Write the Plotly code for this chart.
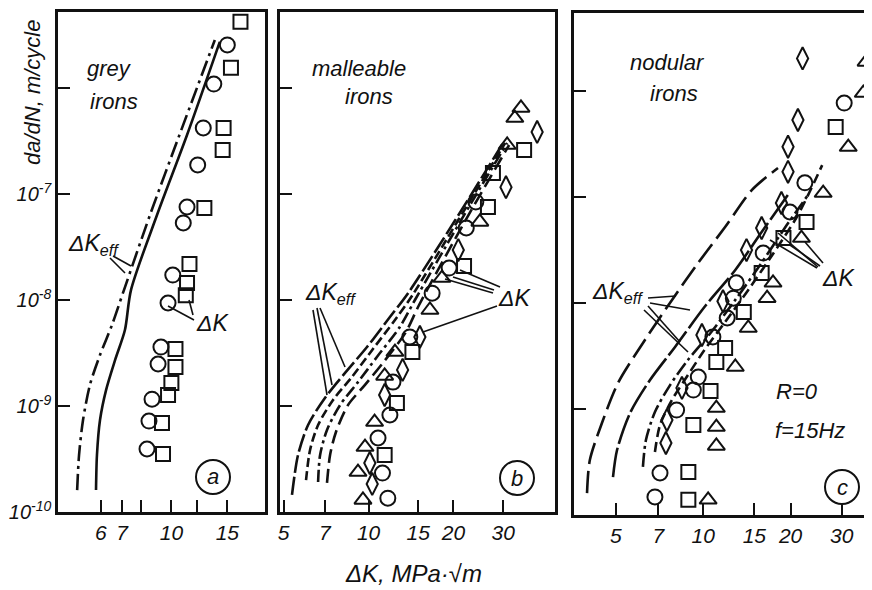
import plotly.graph_objects as go

# ---------------- data: panel a (grey irons) ----------------
a_eff1_x = [5.05, 5.12, 5.27, 5.54, 5.96, 6.50, 7.09, 8.56, 10.6, 13.7]
a_eff1_y = [1.61e-10, 3.45e-10, 7.38e-10, 1.58e-9, 3.03e-9, 5.81e-9, 1.24e-8, 6.33e-8, 3.60e-7, 2.84e-6]
a_eff2_x = [5.79, 5.83, 5.96, 6.23, 6.65, 7.14, 7.46, 9.01, 11.2, 14.2]
a_eff2_y = [1.61e-10, 3.45e-10, 7.38e-10, 1.42e-9, 2.72e-9, 5.21e-9, 1.24e-8, 6.33e-8, 3.60e-7, 2.72e-6]
a_sq_x = [16.5, 15.4, 14.6, 14.5, 12.7, 11.4, 11.2, 11.1, 10.3, 10.3, 10.0, 9.76, 9.34, 9.41]
a_sq_y = [4.22e-6, 1.55e-6, 4.20e-7, 2.60e-7, 7.38e-8, 2.19e-8, 1.45e-8, 1.11e-8, 3.45e-9, 2.33e-9,
          1.65e-9, 1.27e-9, 6.91e-10, 3.52e-10]
a_ci_x = [15.0, 13.6, 12.6, 12.1, 11.2, 10.9, 10.1, 9.76, 9.27, 9.08, 8.69, 8.50, 8.38]
a_ci_y = [2.55e-6, 1.09e-6, 4.20e-7, 1.88e-7, 7.54e-8, 5.33e-8, 1.72e-8, 9.37e-9, 3.60e-9, 2.49e-9,
          1.16e-9, 7.21e-10, 3.93e-10]

# ---------------- data: panel b (malleable irons) ----------------
b_eff1_x = [5.35, 5.62, 6.10, 7.00, 8.25, 9.87, 11.9, 13.8, 20.3, 30.0]
b_eff1_y = [1.45e-10, 3.45e-10, 6.62e-10, 1.19e-9, 2.05e-9, 3.60e-9, 6.91e-9, 1.16e-8, 5.68e-8, 3.03e-7]
b_eff2_x = [6.00, 6.20, 6.62, 7.48, 8.73, 10.3, 12.4, 14.3, 20.8, 30.5]
b_eff2_y = [2.00e-10, 3.85e-10, 6.62e-10, 1.14e-9, 1.88e-9, 3.38e-9, 6.47e-9, 1.11e-8, 5.68e-8, 3.03e-7]
b_eff3_x = [6.62, 6.73, 7.12, 7.92, 9.17, 10.7, 12.9, 14.6, 21.1, 31.0]
b_eff3_y = [1.92e-10, 3.45e-10, 5.94e-10, 1.02e-9, 1.68e-9, 2.90e-9, 5.56e-9, 1.00e-8, 5.45e-8, 3.03e-7]
b_eff4_x = [7.12, 7.30, 7.66, 8.45, 9.71, 11.3, 13.5, 15.1, 21.6, 31.5]
b_eff4_y = [1.88e-10, 3.45e-10, 5.69e-10, 1.02e-9, 1.58e-9, 2.60e-9, 4.89e-9, 8.97e-9, 5.11e-8, 2.90e-7]
b_ci_x = [24.0, 22.2, 19.3, 16.8, 14.0, 12.2, 11.9, 10.8, 11.2, 11.7]
b_ci_y = [8.41e-8, 4.78e-8, 2.00e-8, 1.16e-8, 4.48e-9, 1.68e-9, 8.22e-10, 4.99e-10, 2.33e-10, 1.35e-10]
b_tr_x = [34.7, 33.0, 31.0, 24.8, 18.2, 16.5, 12.4, 11.4, 10.5, 9.71, 9.17, 9.55]
b_tr_y = [6.48e-7, 5.21e-7, 2.90e-7, 5.45e-8, 1.61e-8, 8.05e-9, 3.23e-9, 1.92e-9, 7.06e-10, 4.10e-10,
          2.38e-10, 1.30e-10]
b_di_x = [39.6, 30.7, 20.8, 15.2, 13.2, 11.4, 10.1, 10.3]
b_di_y = [3.85e-7, 1.16e-7, 2.96e-8, 4.48e-9, 2.19e-9, 1.27e-9, 2.90e-10, 1.84e-10]
b_sq_x = [35.6, 27.6, 26.5, 21.8, 14.3, 12.6, 11.4]
b_sq_y = [2.60e-7, 1.58e-7, 7.54e-8, 2.09e-8, 3.23e-9, 1.07e-9, 3.45e-10]

# ---------------- data: panel c (nodular irons) ----------------
c_eff1_x = [3.98, 4.07, 4.48, 5.09, 6.30, 7.81, 9.60, 11.9, 14.7, 18.1]
c_eff1_y = [1.61e-10, 3.30e-10, 7.38e-10, 1.76e-9, 4.48e-9, 1.07e-8, 2.38e-8, 5.21e-8, 1.16e-7, 1.88e-7]
c_eff2_x = [4.89, 5.05, 5.60, 6.56, 8.00, 10.1, 12.9, 15.9, 19.6]
c_eff2_y = [2.28e-10, 4.10e-10, 9.17e-10, 1.88e-9, 3.85e-9, 9.17e-9, 2.05e-8, 4.67e-8, 1.05e-7]
c_eff3_x = [6.20, 6.35, 6.82, 7.69, 8.86, 10.6, 12.9, 15.7, 19.1, 23.0]
c_eff3_y = [2.84e-10, 5.10e-10, 9.37e-10, 1.68e-9, 2.90e-9, 5.21e-9, 1.07e-8, 2.28e-8, 5.10e-8, 1.05e-7]
c_eff4_x = [6.82, 7.10, 7.81, 8.86, 10.1, 11.9, 14.3, 17.3, 21.2, 25.7]
c_eff4_y = [3.93e-10, 7.06e-10, 1.22e-9, 2.09e-9, 3.60e-9, 6.62e-9, 1.33e-8, 2.84e-8, 6.76e-8, 2.00e-7]
c_di_x = [22.0, 21.2, 19.6, 19.6, 18.6, 15.9, 14.1, 11.7, 9.90, 8.45, 7.50, 7.44]
c_di_y = [2.03e-6, 5.33e-7, 2.98e-7, 1.73e-7, 8.78e-8, 5.10e-8, 3.16e-8, 1.04e-8, 4.99e-9, 1.58e-9,
          7.87e-10, 4.78e-10]
c_ci_x = [30.6, 22.4, 19.9, 16.1, 13.0, 12.7, 12.1, 10.8, 9.62, 9.25, 8.10, 7.10, 6.82]
c_ci_y = [7.70e-7, 1.36e-7, 7.22e-8, 2.96e-8, 1.55e-8, 1.11e-8, 7.22e-9, 4.78e-9, 2.00e-9, 1.51e-9,
          9.78e-10, 2.49e-10, 1.48e-10]
c_sq_x = [28.6, 22.7, 18.9, 15.9, 13.8, 11.9, 11.1, 10.6, 9.25, 8.89, 8.89]
c_sq_y = [4.57e-7, 5.81e-8, 4.10e-8, 1.92e-8, 8.22e-9, 3.76e-9, 2.78e-9, 1.48e-9, 7.06e-10, 2.55e-10,
          1.39e-10]
c_tr_x = [36.4, 35.6, 31.6, 25.9, 21.8, 17.4, 16.6, 14.3, 12.9, 11.1, 11.1, 11.1, 10.4]
c_tr_y = [1.88e-6, 9.57e-7, 2.96e-7, 1.09e-7, 4.10e-8, 1.55e-8, 1.11e-8, 5.81e-9, 2.49e-9, 1.02e-9,
          6.76e-10, 4.48e-10, 1.39e-10]

# ---------------- tick labels ----------------
a_xticks = [6, 7, 8, 10, 12, 15]
a_xtext = ["6", "7", "", "10", "", "15"]
bc_xticks = [5, 7, 10, 15, 20, 30]
bc_xtext = ["5", "7", "10", "15", "20", "30"]
yticks = [1e-10, 1e-9, 1e-8, 1e-7, 1e-6]
ytext = ["10<sup>-10</sup>", "10<sup>-9</sup>", "10<sup>-8</sup>", "10<sup>-7</sup>", ""]

# The page body has an 8px margin, so the figure is laid out in page pixels minus 8.
OFF = 8
W, H = 872 - OFF, 590 - OFF
FONT = "Liberation Sans"
BLACK = "#111111"


def P(x, y):
    return (x - OFF) / W, 1 - (y - OFF) / H


def xdom(x0, x1):
    return [max(0.0, (x0 - OFF) / W), min(1.0, (x1 - OFF) / W)]


def ydom(top, bottom):
    return [1 - (bottom - OFF) / H, 1 - (top - OFF) / H]


fig = go.Figure()


def curve(x, y, ax, dash):
    fig.add_trace(go.Scatter(x=x, y=y, mode="lines", xaxis=ax[0], yaxis=ax[1],
                             line=dict(color=BLACK, width=2.6, dash=dash, shape="spline", smoothing=0.8),
                             showlegend=False, hoverinfo="skip"))


def pts(x, y, ax, symbol, size):
    fig.add_trace(go.Scatter(x=x, y=y, mode="markers", xaxis=ax[0], yaxis=ax[1],
                             marker=dict(symbol=symbol, size=size, color=BLACK,
                                         line=dict(color=BLACK, width=2)),
                             showlegend=False, hoverinfo="skip"))


A = ("x", "y")
B = ("x2", "y2")
C = ("x3", "y3")

curve(a_eff1_x, a_eff1_y, A, "16px,5px,3px,5px")
curve(a_eff2_x, a_eff2_y, A, "solid")
pts(a_ci_x, a_ci_y, A, "circle-open", 15)
pts(a_sq_x, a_sq_y, A, "square-open", 14)

curve(b_eff1_x, b_eff1_y, B, "18px,4px")
curve(b_eff2_x, b_eff2_y, B, "9px,4px")
curve(b_eff3_x, b_eff3_y, B, "12px,4px,3px,4px")
curve(b_eff4_x, b_eff4_y, B, "14px,6px")
pts(b_ci_x, b_ci_y, B, "circle-open", 15)
pts(b_tr_x, b_tr_y, B, "triangle-up-open", 15)
pts(b_di_x, b_di_y, B, "diamond-tall-open", 16)
pts(b_sq_x, b_sq_y, B, "square-open", 14)

curve(c_eff1_x, c_eff1_y, C, "22px,7px")
curve(c_eff2_x, c_eff2_y, C, "30px,4px")
curve(c_eff3_x, c_eff3_y, C, "14px,4px,3px,4px")
curve(c_eff4_x, c_eff4_y, C, "10px,5px")
pts(c_di_x, c_di_y, C, "diamond-tall-open", 16)
pts(c_ci_x, c_ci_y, C, "circle-open", 15)
pts(c_sq_x, c_sq_y, C, "square-open", 14)
pts(c_tr_x, c_tr_y, C, "triangle-up-open", 15)

tickfont = dict(family=FONT, size=21, color=BLACK, style="italic")


def xax(domain, rng, tv, tt, anchor, mirror=True):
    return dict(type="log", domain=domain, range=rng, anchor=anchor, tickmode="array",
                tickvals=tv, ticktext=tt, automargin=False,
                ticks="inside", ticklen=12, tickwidth=2, tickcolor=BLACK, showline=True,
                linecolor=BLACK, linewidth=2.5, mirror=mirror, showgrid=False, zeroline=False,
                tickfont=tickfont)


def yax(domain, rng, anchor, labels, mirror=True):
    return dict(type="log", domain=domain, range=rng, anchor=anchor, tickmode="array",
                tickvals=yticks, ticktext=ytext if labels else [""] * len(yticks),
                automargin=False,
                ticks="inside", ticklen=12, tickwidth=2, tickcolor=BLACK, showline=True,
                linecolor=BLACK, linewidth=2.5, mirror=mirror, showgrid=False, zeroline=False,
                tickfont=dict(family=FONT, size=20, color=BLACK, style="italic"))


fig.update_layout(
    width=W, height=H, margin=dict(l=0, r=0, t=0, b=0, autoexpand=False),
    paper_bgcolor="white", plot_bgcolor="white",
    font=dict(family=FONT, color=BLACK, style="italic"),
    xaxis=xax(xdom(58, 265), [0.6430, 1.2947], a_xticks, a_xtext, "y"),
    yaxis=yax(ydom(12, 512), [-10, -5.283], "x", True),
    xaxis2=xax(xdom(280, 555), [0.6858, 1.6610], bc_xticks, bc_xtext, "y2"),
    yaxis2=yax(ydom(12, 512), [-10, -5.283], "x2", False),
    xaxis3=xax(xdom(574, 872), [0.5550, 1.5815], bc_xticks, bc_xtext, "y3"),
    yaxis3=yax(ydom(13, 515), [-10, -5.264], "x3", False, mirror=False),
)

ann = []


def text(t, x, y, size=20, xanchor="center", angle=0):
    px, py = P(x, y)
    ann.append(dict(text=t, x=px, y=py, xref="paper", yref="paper", showarrow=False,
                    xanchor=xanchor, yanchor="middle", textangle=angle,
                    font=dict(family=FONT, size=size, color=BLACK, style="italic")))


text("grey", 85, 69, 22, "left")
text("irons", 88, 102, 22, "left")
text("malleable", 310, 69, 22, "left")
text("irons", 343, 96, 22, "left")
text("nodular", 628, 62, 22, "left")
text("irons", 648, 93, 22, "left")
text("ΔK<sub>eff</sub>", 93, 244, 23)
text("ΔK", 212, 323, 23)
text("ΔK<sub>eff</sub>", 330, 293, 23)
text("ΔK", 514, 298, 23)
text("ΔK<sub>eff</sub>", 617, 292, 23)
text("ΔK", 838, 278, 23)
text("R=0", 797, 391, 22)
text("f=15Hz", 810, 430, 22)
text("a", 213, 476, 22)
text("b", 517, 478, 22)
text("c", 842, 487, 22)
text("da/dN, m/cycle", 33, 92, 22, angle=-90)
text("ΔK, MPa·√m", 413, 573, 24)
fig.update_layout(annotations=ann)

shapes = []


def seg(x0, y0, x1, y1):
    a0, b0 = P(x0, y0)
    a1, b1 = P(x1, y1)
    shapes.append(dict(type="line", xref="paper", yref="paper", x0=a0, y0=b0, x1=a1, y1=b1,
                       line=dict(color=BLACK, width=1.6)))


def ring(cx, cy, r):
    a0, b0 = P(cx - r, cy + r)
    a1, b1 = P(cx + r, cy - r)
    shapes.append(dict(type="circle", xref="paper", yref="paper", x0=a0, y0=b0, x1=a1, y1=b1,
                       line=dict(color=BLACK, width=2)))


ring(213, 477, 17)
ring(517, 478, 17)
ring(842, 487, 17)
# leader lines
seg(110, 258, 125, 273)
seg(113, 256, 131, 266)
seg(168, 306, 194, 320)
seg(189, 300, 193, 315)
seg(313, 310, 327, 395)
seg(317, 308, 332, 385)
seg(320, 308, 345, 367)
seg(500, 287, 460, 270)
seg(494, 290, 453, 277)
seg(493, 293, 445, 279)
seg(497, 306, 423, 332)
seg(648, 298, 676, 296)
seg(650, 303, 690, 310)
seg(648, 306, 680, 342)
seg(644, 310, 688, 352)
seg(817, 268, 770, 240)
seg(818, 267, 778, 233)
seg(820, 266, 790, 245)
seg(823, 263, 805, 242)
fig.update_layout(shapes=shapes)

fig.write_html("out.html")
